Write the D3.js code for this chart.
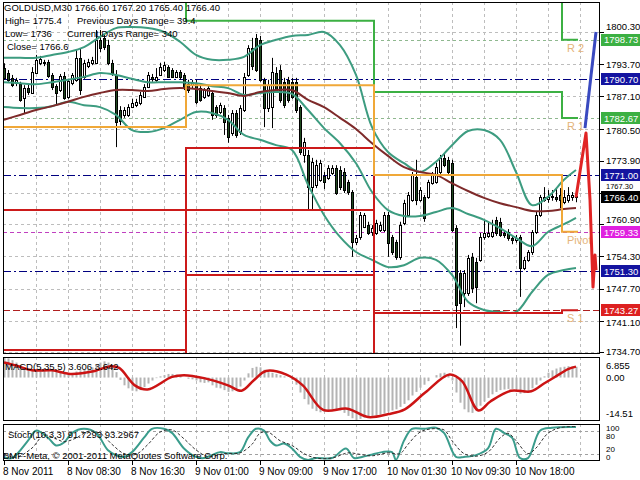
<!DOCTYPE html>
<html><head><meta charset="utf-8">
<script src="https://cdn.jsdelivr.net/npm/d3@7"></script>
<style>
body{margin:0;background:#fff;}
svg{display:block;font-family:"Liberation Sans",Arial,sans-serif;}
</style></head><body>
<svg id="c" width="640" height="480"></svg>
<script>
// ---------------- DATA ----------------
const candleOpen = [1792.9,1791.9,1790.9,1789.8,1789.6,1786.8,1788.8,1787.8,1791.9,1794.0,1794.2,1794.2,1791.5,1789.2,1788.4,1791.3,1787.0,1789.9,1790.5,1795.0,1791.1,1793.3,1794.0,1794.0,1798.7,1799.1,1797.6,1794.0,1791.5,1784.3,1783.3,1783.3,1784.9,1785.3,1785.8,1787.0,1789.0,1791.1,1790.5,1791.5,1792.5,1793.1,1792.5,1791.1,1792.1,1791.5,1789.6,1789.4,1789.9,1788.8,1787.0,1787.4,1787.8,1784.9,1783.9,1784.7,1782.7,1779.6,1783.7,1779.8,1784.3,1791.5,1797.0,1799.1,1798.7,1790.5,1784.7,1784.9,1791.9,1792.5,1790.1,1790.5,1790.1,1790.1,1784.9,1775.1,1775.1,1768.5,1769.0,1770.0,1770.8,1770.4,1771.4,1772.4,1772.0,1771.6,1769.6,1767.5,1757.3,1758.3,1760.3,1760.7,1759.3,1759.1,1759.7,1759.7,1762.8,1758.3,1757.3,1754.2,1761.2,1762.8,1765.9,1770.6,1765.9,1766.5,1766.5,1769.4,1769.6,1771.6,1774.5,1774.1,1773.5,1760.1,1750.9,1746.8,1746.8,1754.2,1753.2,1753.6,1758.3,1758.5,1758.5,1761.8,1761.4,1759.1,1759.3,1758.1,1757.7,1758.3,1751.9,1753.6,1755.2,1759.3,1762.8,1765.9,1766.1,1766.5,1766.5,1766.9,1765.5,1765.9,1766.5,1766.6];
const candleHigh = [1793.9,1792.5,1791.5,1790.9,1790.1,1789.4,1789.6,1793.1,1795.6,1795.4,1794.6,1794.6,1791.9,1789.6,1791.7,1792.1,1790.7,1791.9,1796.6,1797.0,1794.6,1794.8,1795.2,1800.7,1800.7,1799.7,1798.7,1794.6,1792.5,1785.1,1784.9,1785.5,1786.6,1786.6,1788.0,1789.6,1792.1,1791.7,1792.9,1794.0,1794.2,1793.5,1792.9,1792.5,1792.5,1791.9,1790.5,1790.5,1790.5,1789.4,1788.8,1789.2,1788.4,1785.3,1785.8,1785.3,1783.3,1784.3,1784.3,1785.3,1791.9,1797.6,1799.1,1799.9,1799.5,1790.9,1790.5,1795.0,1793.1,1793.5,1790.9,1791.1,1790.9,1790.9,1785.3,1778.6,1776.1,1774.5,1774.1,1774.1,1771.6,1773.0,1773.0,1773.0,1772.8,1772.4,1770.0,1767.9,1758.7,1763.4,1763.2,1761.4,1760.7,1761.8,1761.4,1763.4,1763.4,1758.7,1757.7,1761.4,1765.9,1767.5,1771.6,1774.1,1768.5,1766.9,1770.0,1771.6,1773.5,1775.1,1775.4,1774.7,1774.1,1760.7,1751.5,1751.5,1754.6,1755.0,1754.0,1759.1,1761.8,1761.4,1761.8,1762.4,1762.2,1759.7,1759.9,1758.5,1758.7,1758.7,1754.2,1755.6,1759.7,1763.4,1766.9,1768.5,1767.9,1767.9,1768.1,1768.3,1767.9,1768.5,1767.5,1767.2];
const candleLow = [1790.5,1790.1,1789.0,1789.2,1786.0,1783.7,1787.4,1787.6,1791.7,1793.5,1793.3,1790.9,1788.4,1785.3,1788.0,1786.4,1786.6,1789.4,1790.1,1787.4,1790.7,1792.9,1793.5,1793.7,1796.2,1796.6,1793.5,1791.3,1776.7,1781.2,1782.7,1782.9,1784.7,1784.9,1785.3,1786.8,1788.8,1790.1,1790.1,1791.3,1792.1,1790.9,1790.9,1790.9,1790.5,1788.4,1787.8,1788.8,1785.5,1786.0,1786.6,1787.0,1782.3,1782.7,1783.5,1779.2,1777.6,1779.0,1778.6,1779.2,1783.9,1791.1,1792.5,1792.1,1790.1,1780.8,1783.9,1780.6,1787.8,1785.8,1784.7,1785.8,1786.6,1783.7,1775.1,1773.5,1763.8,1763.8,1768.3,1769.6,1768.1,1770.0,1771.0,1766.9,1767.9,1767.3,1766.9,1754.2,1756.6,1757.7,1760.1,1758.7,1758.5,1758.7,1759.3,1759.3,1754.2,1754.6,1753.6,1753.6,1760.7,1762.4,1765.5,1764.8,1765.5,1761.4,1766.1,1769.0,1769.2,1771.2,1772.6,1771.2,1759.3,1739.6,1736.0,1743.9,1746.2,1746.8,1744.7,1753.2,1757.7,1758.1,1758.1,1758.5,1758.3,1758.1,1757.5,1756.8,1757.1,1746.0,1751.5,1753.2,1754.6,1758.9,1762.4,1765.5,1765.3,1765.7,1765.5,1764.2,1765.0,1765.3,1765.7,1765.4];
const candleClose = [1790.9,1790.5,1789.4,1790.5,1786.4,1788.8,1788.0,1792.1,1794.6,1794.8,1794.0,1791.3,1789.0,1787.8,1791.3,1786.8,1790.3,1791.5,1795.0,1788.4,1794.0,1794.2,1794.6,1798.7,1797.0,1797.2,1794.0,1791.9,1781.9,1782.1,1784.3,1784.9,1785.8,1786.0,1787.4,1789.0,1791.5,1790.7,1791.1,1793.1,1793.5,1791.1,1791.1,1792.1,1791.1,1789.0,1788.4,1790.1,1786.0,1786.4,1788.4,1788.8,1783.3,1783.3,1785.3,1781.9,1778.8,1783.7,1779.2,1784.7,1791.1,1797.0,1793.3,1792.5,1790.5,1784.7,1789.4,1792.1,1788.4,1786.4,1785.3,1786.4,1787.0,1784.3,1775.7,1777.8,1768.5,1773.7,1773.0,1773.5,1769.6,1772.4,1772.4,1767.3,1768.5,1767.9,1767.5,1757.3,1758.1,1762.8,1762.8,1759.1,1760.1,1761.2,1760.7,1762.8,1757.1,1755.2,1754.2,1760.7,1765.3,1766.9,1771.0,1765.9,1767.9,1762.2,1769.6,1771.0,1772.6,1774.5,1773.0,1771.6,1759.7,1744.3,1744.7,1750.9,1754.0,1747.8,1748.0,1758.3,1759.1,1759.1,1759.3,1759.1,1758.7,1758.7,1758.1,1757.7,1758.1,1751.9,1753.6,1755.2,1759.3,1762.8,1766.5,1766.5,1766.5,1766.7,1766.1,1765.9,1766.5,1766.9,1766.9,1766.4];

// Bollinger bands (upper / middle / lower) and moving average, read every 4 bars (last = bar 143)
const bandBars = [0,4,8,12,16,20,24,28,32,36,40,44,48,52,56,60,64,68,72,76,80,84,88,92,96,100,104,108,112,116,120,124,128,132,136,140,143];
const bbUpper = [1795.0,1795.0,1795.0,1795.6,1796.2,1797.2,1799.3,1801.1,1801.3,1801.1,1800.3,1798.3,1795.6,1794.6,1794.6,1795.2,1797.6,1798.7,1799.5,1799.7,1800.3,1797.6,1791.5,1780.8,1775.7,1773.4,1771.6,1773.7,1777.1,1780.0,1780.2,1778.2,1771.6,1764.8,1766.5,1770.0,1772.0];
const bbMiddle = [1790.0,1789.8,1789.6,1790.0,1790.5,1791.1,1791.9,1791.5,1790.7,1790.0,1790.0,1790.0,1789.8,1789.2,1788.8,1787.4,1787.8,1788.0,1787.6,1784.3,1780.6,1777.5,1773.4,1767.5,1763.8,1762.6,1762.6,1763.4,1764.2,1763.0,1761.8,1760.1,1758.1,1756.4,1759.3,1760.9,1762.2];
const bbLower = [1784.9,1784.7,1784.7,1785.1,1786.0,1785.3,1784.9,1783.3,1780.2,1779.8,1780.6,1782.3,1783.9,1783.7,1782.3,1779.2,1778.2,1777.1,1776.1,1769.0,1762.8,1758.3,1755.2,1753.6,1752.1,1752.5,1754.0,1753.6,1750.5,1745.0,1743.3,1742.9,1742.9,1747.0,1750.5,1751.5,1751.9];
const maSlow = [1782.3,1783.3,1784.3,1785.1,1786.0,1787.0,1787.8,1788.4,1788.4,1788.2,1788.6,1788.8,1788.6,1788.2,1787.8,1787.2,1788.0,1788.4,1788.4,1786.4,1784.9,1782.7,1780.4,1777.5,1774.9,1772.6,1771.6,1771.0,1769.3,1767.7,1766.3,1765.2,1764.4,1763.6,1763.6,1764.0,1764.2];

// daily pivot levels (8, 9, 10, 11 Nov); day start bar index
const dayStart = [0, 46, 93, 140];
const pivotP  = [1780.8, 1789.4, 1771.0, 1759.33];
const pivotR1 = [1809.4, 1802.6, 1788.0, 1782.67];
const pivotR2 = [1830.0, 1815.0, 1812.0, 1798.73];
const pivotS1 = [1763.8, 1776.5, 1742.7, 1743.27];
const pivotS2 = [1735.1, 1763.8, 1725.0, 1719.9];
const pivotS3 = [1705.0, 1750.5, 1696.0, 1696.0];

// horizontal level lines
const navyLevels = [1790.70, 1771.00, 1751.30];
const magentaLevel = 1759.33;
const redLevel = 1743.27;
const greenLevels = [1798.73, 1782.67];

// forecast zigzags [bar, price]
const blueZigBars = [145.25, 148];
const blueZigVals = [1780.6, 1800.3];
const redZigBars = [143, 145.5, 146.5, 147.25, 147.75, 148];
const redZigVals = [1766.4, 1779.6, 1765.9, 1748.0, 1754.6, 1751.5];

// price axis
const priceTicks = [1800.30,1793.70,1787.10,1780.50,1773.90,1767.30,1760.90,1754.30,1747.70,1741.10,1734.70];
const priceTags = [
  {v:1798.73, c:"#3cb043"}, {v:1790.70, c:"#1414a0"}, {v:1782.67, c:"#3cb043"},
  {v:1771.00, c:"#1414a0"}, {v:1766.40, c:"#000000"}, {v:1759.33, c:"#e020e0"},
  {v:1751.30, c:"#1414a0"}, {v:1743.27, c:"#dd2020"}];

// MACD(5,35,5) histogram per bar, signal line points
const macdHist = [6.855,6.4,5.8,5.0,4.2,3.5,3.0,2.6,2.6,3.0,
 3.2,3.0,2.6,2.2,1.8,1.5,1.2,1.4,2.0,2.4,
 2.6,3.0,3.4,4.2,5.0,5.4,5.0,4.2,1.8,-0.8,
 -2.6,-3.6,-4.4,-4.6,-4.2,-3.2,-2.0,-1.0,-0.2,0.4,
 0.8,1.2,1.2,1.0,0.6,0.0,-0.4,-0.6,-1.0,-1.6,
 -1.8,-1.6,-2.6,-3.4,-3.6,-4.2,-4.8,-4.6,-4.0,-3.0,
 -1.0,1.4,3.2,3.6,3.4,2.6,1.8,1.6,1.2,0.8,
 0.4,0.0,-0.8,-2.4,-5.0,-7.2,-9.0,-10.4,-11.2,-11.6,
 -11.4,-11.0,-10.6,-10.6,-11.0,-11.8,-12.8,-13.6,-14.51,-13.8,
 -13.4,-13.2,-12.8,-12.6,-12.4,-12.0,-11.4,-11.0,-10.6,-9.8,
 -8.8,-7.6,-6.0,-4.8,-3.4,-2.4,-1.2,0.0,0.8,1.4,
 1.6,1.2,-1.0,-5.0,-8.4,-10.6,-11.6,-11.8,-11.0,-9.4,
 -8.0,-6.8,-5.6,-4.8,-4.2,-4.0,-3.8,-3.8,-4.0,-5.4,
 -5.2,-4.6,-3.6,-2.4,-1.0,0.4,1.6,2.4,3.0,3.4,
 3.6,3.8,3.7,3.606];
const macdSigBars = [0,3,7,12,16.5,22.7,26.7,28.8,32.9,35.9,42,45,50,56,59.4,62.4,65.5,70.6,74.7,79.8,85.9,91,96.1,100.2,105.3,111.4,114.5,118.6,121.6,126.7,131.8,135,139,141,143];
const macdSigVals = [5.0,4.0,2.4,2.4,1.2,2.2,3.8,3.2,-2.8,-4.0,0.2,0.8,-0.2,-2.6,-4.4,-1.0,2.2,1.0,-2.6,-10.8,-10.4,-13.2,-12.2,-10.6,-5.0,1.0,-1.2,-11.0,-8.0,-4.4,-4.6,-2.0,1.2,2.8,3.642];

// Stochastic(10,3,3)
const stochKBars = [0,2,6,8,11,13,15,17,20,23,26,28,30,32,35,37,40,42,45,48,50,52,54,56,59,61,63,65,66.5,68,70,72,74,76,78,82,85.5,87.5,89.5,91.5,94.5,97,98,100,102,105,108,110,113,115,118,121,123,125,127,129,131,134,137,143];
const stochKVals = [10,8,55,82,63,42,50,76,87,76,29,16,11,24,63,87,87,76,34,11,8,16,24,21,24,63,87,82,55,42,47,34,11,3,8,8,34,8,11,16,24,24,3,55,87,87,90,76,11,11,16,34,87,76,63,8,8,82,90,91.7293];
const stochDBars = [0,3,7,10,13,15,18,21,24,27,30,33,36,39,42,45,48,51,55,59,62,64,66,69,72,75,78,82,86,89,92,96,99,101,104,107,110,112,115,118,121,124,126,128,131,133,136,139,143];
const stochDVals = [20,10,35,70,60,52,62,80,75,45,20,18,45,78,84,60,30,12,20,22,45,75,78,55,42,20,8,8,22,18,14,22,20,45,78,87,84,55,20,13,24,62,75,55,20,35,75,90,93.2967];

// time axis
const timeLabels = ["8 Nov 2011","8 Nov 08:30","8 Nov 16:30","9 Nov 01:00","9 Nov 09:00","9 Nov 17:00","10 Nov 01:30","10 Nov 09:30","10 Nov 18:00"];
const timeLabelBars = [0,16,32,48,64,80,96,112,128];

// ---------------- DRAW ----------------
const svg = d3.select("#c");
const defs = svg.append("defs");
const L = 3, R = 600;
const main = {t:2, b:354}, mp = {t:357, b:421}, sp = {t:424, b:461};
function clip(id, p){ defs.append("clipPath").attr("id", id).append("rect").attr("x", L).attr("y", p.t).attr("width", R-L).attr("height", p.b-p.t); }
clip("cm", main); clip("cmacd", mp); clip("cst", sp);

const x = d3.scaleLinear().domain([0,149]).range([4,600]);
const y = d3.scaleLinear().domain([1734.29,1806.45]).range([main.b, main.t]);
const yM = d3.scaleLinear().domain([-14.51,6.855]).range([mp.b, mp.t]);
const yS = d3.scaleLinear().domain([0,100]).range([sp.b, sp.t]);
const px = v => Math.round(v) + 0.5;

svg.append("rect").attr("width",640).attr("height",480).attr("fill","#fff");

const gridColor = "#bdbdbd";
const gMain = svg.append("g").attr("clip-path","url(#cm)");
const gMacd = svg.append("g").attr("clip-path","url(#cmacd)");
const gSt = svg.append("g").attr("clip-path","url(#cst)");

// vertical grid
const vgrid = d3.range(8, 149, 8);
[[gMain,main],[gMacd,mp],[gSt,sp]].forEach(([g,p]) => {
  g.selectAll(null).data(vgrid).enter().append("line")
    .attr("x1", d=>px(x(d))).attr("x2", d=>px(x(d))).attr("y1", p.t).attr("y2", p.b)
    .attr("stroke", gridColor).attr("stroke-dasharray","3,3");
});
// horizontal grid
gMain.selectAll(null).data(priceTicks).enter().append("line")
  .attr("x1",L).attr("x2",R).attr("y1",d=>px(y(d))).attr("y2",d=>px(y(d)))
  .attr("stroke",gridColor).attr("stroke-dasharray","3,3");

// level lines
gMain.selectAll(null).data(greenLevels).enter().append("line")
  .attr("x1",L).attr("x2",R).attr("y1",d=>px(y(d))).attr("y2",d=>px(y(d)))
  .attr("stroke","#8fb88f").attr("stroke-dasharray","3,3");
gMain.selectAll(null).data(navyLevels).enter().append("line")
  .attr("x1",L).attr("x2",R).attr("y1",d=>px(y(d))).attr("y2",d=>px(y(d)))
  .attr("stroke","#000080").attr("stroke-dasharray","8,3,2,3");
gMain.append("line").attr("x1",L).attr("x2",R).attr("y1",px(y(magentaLevel))).attr("y2",px(y(magentaLevel)))
  .attr("stroke","#c040c0").attr("stroke-dasharray","4,3");
gMain.append("line").attr("x1",L).attr("x2",R).attr("y1",px(y(redLevel))).attr("y2",px(y(redLevel)))
  .attr("stroke","#b02020").attr("stroke-dasharray","7,3");

// candles
const bars = candleClose.map((c,i)=>({i, o:candleOpen[i], h:candleHigh[i], l:candleLow[i], c}));
const cg = gMain.append("g");
cg.selectAll(null).data(bars).enter().append("line")
  .attr("x1",d=>Math.round(x(d.i))+0.5).attr("x2",d=>Math.round(x(d.i))+0.5)
  .attr("y1",d=>y(d.h)).attr("y2",d=>y(d.l)).attr("stroke","#000").attr("stroke-width",1);
cg.selectAll(null).data(bars).enter().append("rect")
  .attr("x",d=>Math.round(x(d.i))-0.5).attr("width",2)
  .attr("y",d=>Math.round(y(Math.max(d.o,d.c)))+0.5)
  .attr("height",d=>Math.max(0.01, Math.round(y(Math.min(d.o,d.c)))-Math.round(y(Math.max(d.o,d.c)))))
  .attr("fill",d=>d.c>=d.o?"#ffffff":"#1f4a1f").attr("stroke","#000").attr("stroke-width",1);

// bands & MA
const bandLine = vals => d3.line().x((d,i)=>x(bandBars[i])).y(d=>y(d)).curve(d3.curveCatmullRom)(vals);
[bbUpper,bbMiddle,bbLower].forEach(v=>{
  gMain.append("path").attr("d",bandLine(v)).attr("fill","none").attr("stroke","#3d9c80").attr("stroke-width",2);
});
gMain.append("path").attr("d",bandLine(maSlow)).attr("fill","none").attr("stroke","#7e2a2a").attr("stroke-width",2);

// pivot step lines
const stepLine = d3.line().x(d=>x(d[0])).y(d=>y(d[1])).curve(d3.curveStepAfter);
function steps(vals){ const pts = dayStart.map((s,k)=>[s-0.5, vals[k]]); pts.push([143.5, vals[vals.length-1]]); return stepLine(pts); }
[[pivotR2,"#3cb043"],[pivotR1,"#3cb043"],[pivotS3,"#cc1a1a"],[pivotS2,"#cc1a1a"],[pivotS1,"#cc1a1a"],[pivotP,"#f0a838"]].forEach(([v,c])=>{
  gMain.append("path").attr("d",steps(v)).attr("fill","none").attr("stroke",c).attr("stroke-width",2);
});
// pivot labels (kept inside the plot so they stay clear of the axis tags)
const lblColor = "#e5b47a";
[["R 2",pivotR2[3]],["R 1",pivotR1[3]],["Pivot",pivotP[3]],["S 1",pivotS1[3]]].forEach(([t,v])=>{
  gMain.append("text").attr("x",567).attr("y",y(v)+12).attr("fill",lblColor).attr("font-size",11).text(t);
});

// zigzag forecasts
const zl = d3.line().x(d=>x(d[0])).y(d=>y(d[1]));
gMain.append("path").attr("d",zl(redZigBars.map((b,i)=>[b,redZigVals[i]]))).attr("fill","none").attr("stroke","#e02424").attr("stroke-width",3).attr("stroke-linejoin","round");
gMain.append("path").attr("d",zl(blueZigBars.map((b,i)=>[b,blueZigVals[i]]))).attr("fill","none").attr("stroke","#3a4ac0").attr("stroke-width",3);

// header texts
const ht = svg.append("g").attr("font-size",9.5).attr("fill","#000");
ht.append("text").attr("x",4).attr("y",11).text("GOLDUSD,M30  1766.60 1767.20 1765.40 1766.40");
ht.append("text").attr("x",5).attr("y",24).text("High= 1775.4");
ht.append("text").attr("x",77).attr("y",24).text("Previous Days Range= 39.4");
ht.append("text").attr("x",5).attr("y",37).text("Low= 1736");
ht.append("text").attr("x",67).attr("y",37).text("Current Days Range= 340");
ht.append("text").attr("x",7).attr("y",50).text("Close= 1766.6");

// MACD panel
gMacd.selectAll(null).data(macdHist).enter().append("rect")
  .attr("x",(d,i)=>Math.round(x(i))-0.5).attr("width",2)
  .attr("y",d=>Math.min(yM(d),yM(0))).attr("height",d=>Math.abs(yM(d)-yM(0)))
  .attr("fill","#b4b4b4");
gMacd.append("path").attr("d",d3.line().x(d=>x(d[0])).y(d=>yM(d[1])).curve(d3.curveCatmullRom)(macdSigBars.map((b,i)=>[b,macdSigVals[i]])))
  .attr("fill","none").attr("stroke","#cc1414").attr("stroke-width",2.5);
svg.append("text").attr("x",5).attr("y",370).attr("font-size",9.5).text("MACD(5,35,5) 3.606 3.642");

// Stoch panel
[80,20].forEach(v=>gSt.append("line").attr("x1",L).attr("x2",R).attr("y1",px(yS(v))).attr("y2",px(yS(v))).attr("stroke","#a0a0a0").attr("stroke-dasharray","3,3"));
gSt.append("path").attr("d",d3.line().x(d=>x(d[0])).y(d=>yS(d[1])).curve(d3.curveCatmullRom)(stochKBars.map((b,i)=>[b,stochKVals[i]])))
  .attr("fill","none").attr("stroke","#3a9c8c").attr("stroke-width",2);
gSt.append("path").attr("d",d3.line().x(d=>x(d[0])).y(d=>yS(d[1])).curve(d3.curveCatmullRom)(stochDBars.map((b,i)=>[b,stochDVals[i]])))
  .attr("fill","none").attr("stroke","#303030").attr("stroke-width",1).attr("stroke-dasharray","3,2");
svg.append("text").attr("x",8).attr("y",438).attr("font-size",9.5).text("Stoch(10,3,3) 91.7293 93.2967");
svg.append("text").attr("x",3).attr("y",459).attr("font-size",9.5).text("BMF-Meta, \u00a9 2001-2011 MetaQuotes Software Corp.");

// frames
[main,mp,sp].forEach(p=>svg.append("rect").attr("x",L+0.5).attr("y",p.t+0.5).attr("width",R-L-1).attr("height",p.b-p.t-1).attr("fill","none").attr("stroke","#000"));

// price axis: labels placed in free space between the value tags
const ax = svg.append("g").attr("font-size",9.5).attr("fill","#000");
const tagH = 12, lblH = 11;
const tagYs = priceTags.map(t=>y(t.v)).sort((a,b)=>a-b);
function clash(yy, h){ return tagYs.some(ty => Math.abs(ty-yy) < tagH/2 + h/2 + 0.5); }
priceTicks.forEach(p=>{
  let yy = y(p), fs = 9.5;
  if (clash(yy, lblH)) {
    // try moving away from the nearest tag
    const near = tagYs.reduce((a,b)=>Math.abs(b-yy)<Math.abs(a-yy)?b:a);
    const cand = near > yy ? near - tagH/2 - lblH/2 - 1 : near + tagH/2 + lblH/2 + 1;
    if (!clash(cand, lblH)) yy = cand;
    else {
      // squeeze into the gap between neighbouring tags with a smaller font
      const above = tagYs.filter(t=>t<=yy).pop(), below = tagYs.find(t=>t>yy);
      yy = ((above ?? yy-20) + (below ?? yy+20)) / 2; fs = 7.5;
    }
  }
  ax.append("line").attr("x1",R).attr("x2",R+4).attr("y1",px(y(p))).attr("y2",px(y(p))).attr("stroke","#000");
  ax.append("text").attr("x",606).attr("y",yy).attr("dy","0.35em").attr("font-size",fs).text(p.toFixed(2));
});
priceTags.forEach(t=>{
  ax.append("rect").attr("x",601).attr("y",Math.round(y(t.v))-tagH/2).attr("width",39).attr("height",tagH).attr("fill",t.c);
  ax.append("text").attr("x",604).attr("y",y(t.v)+0.5).attr("dy","0.35em").attr("fill","#fff").attr("font-size",9.5).text(t.v.toFixed(2));
});
// MACD axis
[["6.855",yM(6.855)+9],["0.00",yM(0)],["-14.51",yM(-14.51)-7]].forEach(([t,yy])=>{
  ax.append("text").attr("x",606).attr("y",yy).attr("dy","0.35em").text(t);
});
// Stoch axis (small, stacked so they do not collide)
[["100",428],["80",436.5],["20",449.5],["0",457.5]].forEach(([t,yy])=>{
  ax.append("text").attr("x",606).attr("y",yy).attr("dy","0.35em").attr("font-size",8).text(t);
});

// time axis
const tx = svg.append("g").attr("font-size",10).attr("fill","#000");
timeLabelBars.forEach((b,k)=>{
  tx.append("line").attr("x1",px(x(b))).attr("x2",px(x(b))).attr("y1",sp.b).attr("y2",sp.b+4).attr("stroke","#000");
  tx.append("text").attr("x",x(b)-1).attr("y",475).text(timeLabels[k]);
});
</script>
</body></html>
